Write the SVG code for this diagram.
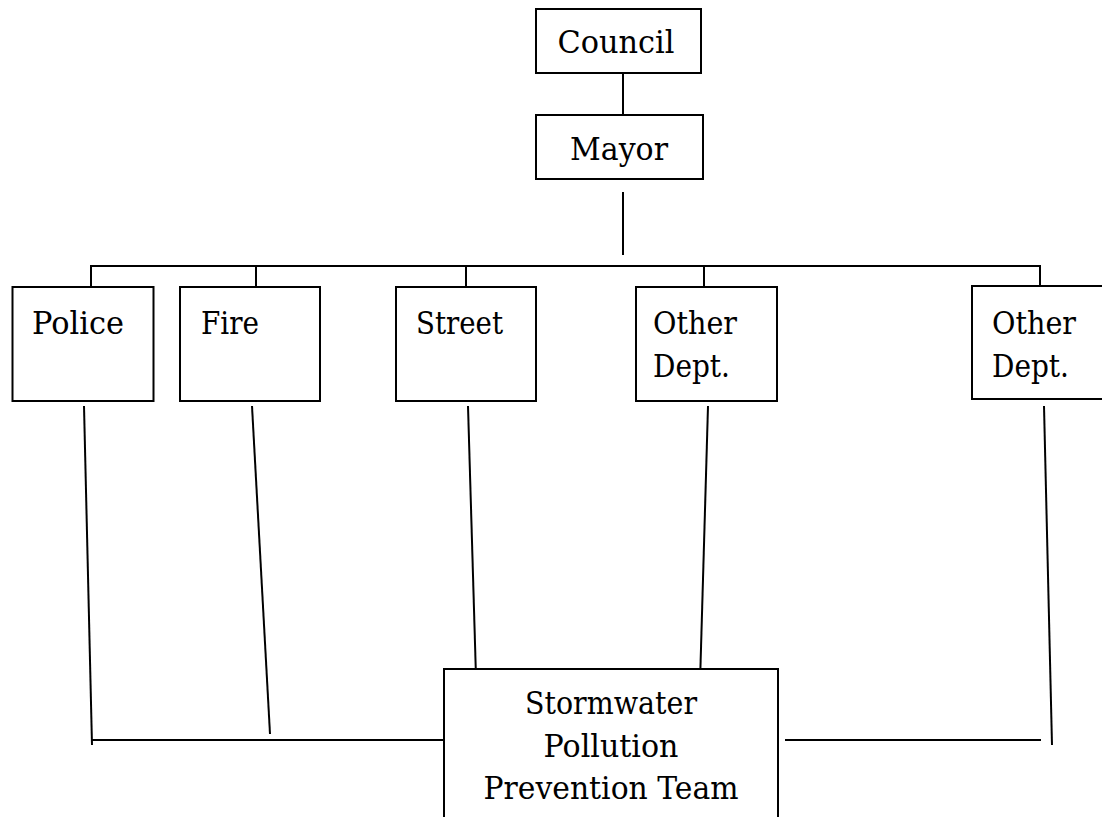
<svg xmlns="http://www.w3.org/2000/svg" width="1102" height="817" viewBox="0 0 1102 817">
<style>
.box{fill:#fff;stroke:#000;stroke-width:2}
text{font-family:'DejaVu Serif',serif;font-size:32px;fill:#000}
.c{text-anchor:middle}
.ln{stroke:#000;stroke-width:2;fill:none}
</style>
<rect width="1102" height="817" fill="#fff"/>
<g id="connectors">
<line class="ln" x1="623" y1="68" x2="623" y2="114"/>
<line class="ln" x1="623" y1="192" x2="623" y2="255"/>
<polyline class="ln" points="91,293 91,266 1040,266 1040,286"/>
<line class="ln" x1="256" y1="266" x2="256" y2="287"/>
<line class="ln" x1="466" y1="266" x2="466" y2="287"/>
<line class="ln" x1="704" y1="266" x2="704" y2="287"/>
<line class="ln" x1="84" y1="406" x2="92" y2="745"/>
<line class="ln" x1="252" y1="406" x2="270" y2="734"/>
<line class="ln" x1="468" y1="406" x2="476" y2="677"/>
<line class="ln" x1="708" y1="406" x2="700" y2="683"/>
<line class="ln" x1="1044" y1="406" x2="1052" y2="745"/>
<line class="ln" x1="92" y1="740" x2="451" y2="740"/>
<line class="ln" x1="785" y1="740" x2="1041" y2="740"/>
</g>
<g id="council">
<rect class="box" x="536" y="9" width="165" height="64"/>
<text class="c" x="616" y="53" textLength="117" lengthAdjust="spacingAndGlyphs">Council</text>
</g>
<g id="mayor">
<rect class="box" x="536" y="115" width="167" height="64"/>
<text class="c" x="619" y="160" textLength="98" lengthAdjust="spacingAndGlyphs">Mayor</text>
</g>
<g id="police">
<rect class="box" x="12.5" y="287" width="141" height="114"/>
<text x="32" y="334" textLength="92" lengthAdjust="spacingAndGlyphs">Police</text>
</g>
<g id="fire">
<rect class="box" x="180" y="287" width="140" height="114"/>
<text x="201" y="334" textLength="58" lengthAdjust="spacingAndGlyphs">Fire</text>
</g>
<g id="street">
<rect class="box" x="396" y="287" width="140" height="114"/>
<text x="416" y="334" textLength="87" lengthAdjust="spacingAndGlyphs">Street</text>
</g>
<g id="other1">
<rect class="box" x="636" y="287" width="141" height="114"/>
<text x="653" y="334" textLength="84" lengthAdjust="spacingAndGlyphs">Other</text>
<text x="653" y="377" textLength="77" lengthAdjust="spacingAndGlyphs">Dept.</text>
</g>
<g id="other2">
<rect class="box" x="972" y="286" width="140" height="113"/>
<text x="992" y="334" textLength="84" lengthAdjust="spacingAndGlyphs">Other</text>
<text x="992" y="377" textLength="77" lengthAdjust="spacingAndGlyphs">Dept.</text>
</g>
<g id="team">
<rect class="box" x="444" y="669" width="334" height="160"/>
<text class="c" x="611" y="714" textLength="172" lengthAdjust="spacingAndGlyphs">Stormwater</text>
<text class="c" x="611" y="757" textLength="135" lengthAdjust="spacingAndGlyphs">Pollution</text>
<text class="c" x="611" y="799" textLength="255" lengthAdjust="spacingAndGlyphs">Prevention Team</text>
</g>
</svg>
